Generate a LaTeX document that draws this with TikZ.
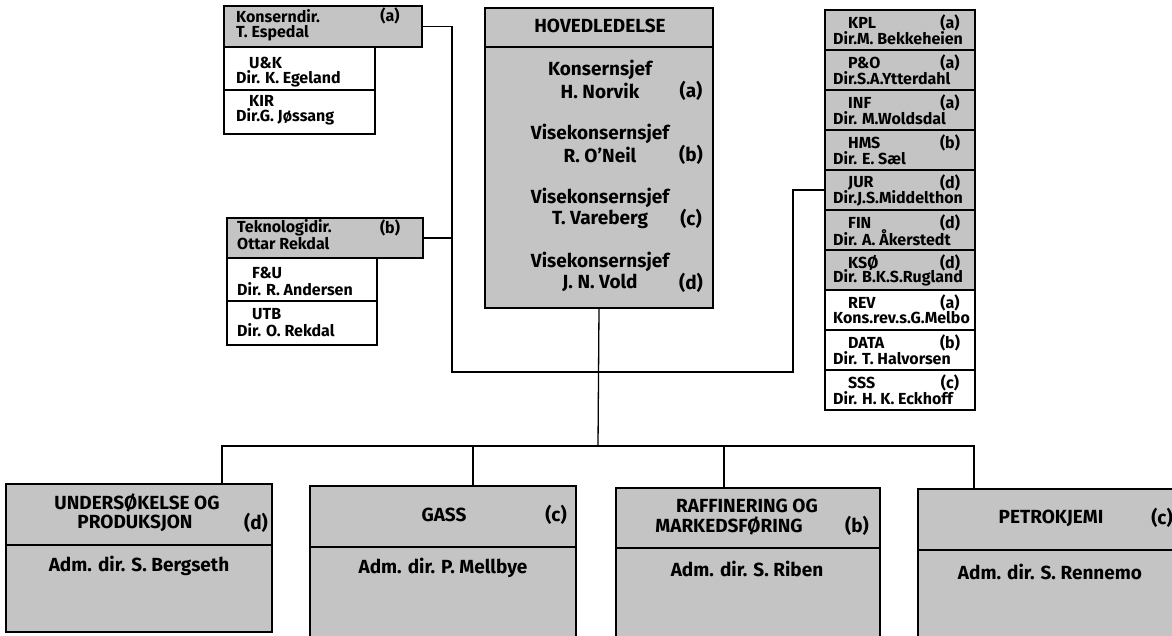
\documentclass[tikz,border=0pt]{standalone}
\usepackage{fontspec}
\setmainfont{Fira Sans}
\tikzset{
  box/.style={draw, line width=1.3pt, anchor=north west, inner sep=0pt, outer sep=0pt},
  grey/.style={box, fill=black!23},
  blank/.style={box, fill=white},
  sm/.style={inner sep=0pt, font=\fontsize{16}{16}\selectfont\bfseries},
  bg/.style={inner sep=0pt, font=\fontsize{19}{19}\selectfont\bfseries},
  conn/.style={line width=1.3pt},
}
\begin{document}
\begin{tikzpicture}[x=1pt,y=-1pt]
  \useasboundingbox (0,0) rectangle (1172,636);

  % hovedledelse
  \node[grey, minimum width=228, minimum height=300] (hov) at (485,8) {};
  \draw[conn] ([yshift=-39pt]hov.north west) -- ([yshift=-39pt]hov.north east);
  \node[bg] at (600,26) {HOVEDLEDELSE};
  \node[bg] at (600,70) {Konsernsjef};
  \node[bg] at (600,91) {H. Norvik};
  \node[bg] at (600,134) {Visekonsernsjef};
  \node[bg] at (600,155) {R. O'Neil};
  \node[bg] at (600,198) {Visekonsernsjef};
  \node[bg] at (600,219) {T. Vareberg};
  \node[bg] at (600,262) {Visekonsernsjef};
  \node[bg] at (600,283) {J. N. Vold};
  \node[bg] at (691,91) {(a)};
  \node[bg] at (691,155) {(b)};
  \node[bg] at (691,219) {(c)};
  \node[bg] at (691,283) {(d)};

  % konserndirektor
  \node[grey, minimum width=198, minimum height=41] (kd) at (224,6) {};
  \node[blank, minimum width=151, minimum height=43] (uk) at (224,47) {};
  \node[blank, minimum width=151, minimum height=44] (kir) at (224,90) {};
  \node[sm, anchor=west] at (236,16) {Konserndir.};
  \node[sm, anchor=west] at (236,33) {T. Espedal};
  \node[sm] at (390,16) {(a)};
  \node[sm, anchor=west] at (249,63) {U\&K};
  \node[sm, anchor=west] at (236,79) {Dir. K. Egeland};
  \node[sm, anchor=west] at (249,101) {KIR};
  \node[sm, anchor=west] at (236,117) {Dir.G. Jøssang};

  % teknologidirektor
  \node[grey, minimum width=196, minimum height=40] (tek) at (227,218) {};
  \node[blank, minimum width=150, minimum height=43] (fu) at (227,258) {};
  \node[blank, minimum width=150, minimum height=44] (utb) at (227,301) {};
  \node[sm, anchor=west] at (237,228) {Teknologidir.};
  \node[sm, anchor=west] at (237,244) {Ottar Rekdal};
  \node[sm] at (390,228) {(b)};
  \node[sm, anchor=west] at (252,273) {F\&U};
  \node[sm, anchor=west] at (237,289) {Dir. R. Andersen};
  \node[sm, anchor=west] at (252,314) {UTB};
  \node[sm, anchor=west] at (237,330) {Dir. O. Rekdal};

  % staber
  \foreach \i/\code/\lt/\nm/\fl in {0/KPL/a/Dir.M. Bekkeheien/grey,
      1/P\&O/a/Dir.S.A.Ytterdahl/grey, 2/INF/a/Dir. M.Woldsdal/grey,
      3/HMS/b/Dir. E. Sæl/grey, 4/JUR/d/Dir.J.S.Middelthon/grey,
      5/FIN/d/Dir. A. Åkerstedt/grey, 6/KSØ/d/Dir. B.K.S.Rugland/grey,
      7/REV/a/Kons.rev.s.G.Melbo/blank, 8/DATA/b/Dir. T. Halvorsen/blank,
      9/SSS/c/Dir. H. K. Eckhoff/blank}{
    \node[\fl, minimum width=150, minimum height=40] (r\i) at (825,10+40*\i) {};
    \node[sm, anchor=west] at ([xshift=23pt,yshift=-13pt]r\i.north west) {\code};
    \node[sm] at ([xshift=125pt,yshift=-13pt]r\i.north west) {(\lt)};
    \node[sm, anchor=west] at ([xshift=8pt,yshift=-28pt]r\i.north west) {\nm};
  }

  % divisjoner
  \node[grey, minimum width=266, minimum height=148] (und) at (6,484) {};
  \draw[conn] ([yshift=-61pt]und.north west) -- ([yshift=-61pt]und.north east);
  \node[bg] at (137,503) {UNDERSØKELSE OG};
  \node[bg] at (135,523) {PRODUKSJON};
  \node[bg] at (256,523) {(d)};
  \node[bg] at (139,566) {Adm. dir. S. Bergseth};

  \node[grey, minimum width=266, minimum height=156] (gass) at (310,486) {};
  \draw[conn] ([yshift=-61pt]gass.north west) -- ([yshift=-61pt]gass.north east);
  \node[bg] at (444,515) {GASS};
  \node[bg] at (556,515) {(c)};
  \node[bg] at (443,568) {Adm. dir. P. Mellbye};

  \node[grey, minimum width=264, minimum height=154] (raff) at (616,488) {};
  \draw[conn] ([yshift=-60pt]raff.north west) -- ([yshift=-60pt]raff.north east);
  \node[bg] at (747,506) {RAFFINERING OG};
  \node[bg] at (729,526) {MARKEDSFØRING};
  \node[bg] at (857,526) {(b)};
  \node[bg] at (747,569) {Adm. dir. S. Riben};

  \node[grey, minimum width=262, minimum height=153] (petro) at (918,489) {};
  \draw[conn] ([yshift=-61pt]petro.north west) -- ([yshift=-61pt]petro.north east);
  \node[bg] at (1051,518) {PETROKJEMI};
  \node[bg] at (1162,518) {(c)};
  \node[bg] at (1050,572) {Adm. dir. S. Rennemo};

  % linjer
  \coordinate (bus) at (598,446);
  \coordinate (lj) at (452,372);
  \coordinate (rj) at (793,372);
  \coordinate (und-in) at (222,484);
  \coordinate (gass-in) at (473,486);
  \coordinate (raff-in) at (724,488);
  \coordinate (petro-in) at (974,489);
  \draw[conn] (hov.south) -- (bus);
  \draw[conn] (und-in) |- (bus) -| (petro-in);
  \draw[conn] (gass-in) -- (gass-in |- bus);
  \draw[conn] (raff-in) -- (raff-in |- bus);
  \draw[conn] (kd.east) -| (lj) -- (rj) |- (r4.west);
  \draw[conn] (tek.east) -- (tek.east -| lj);
\end{tikzpicture}
\end{document}
